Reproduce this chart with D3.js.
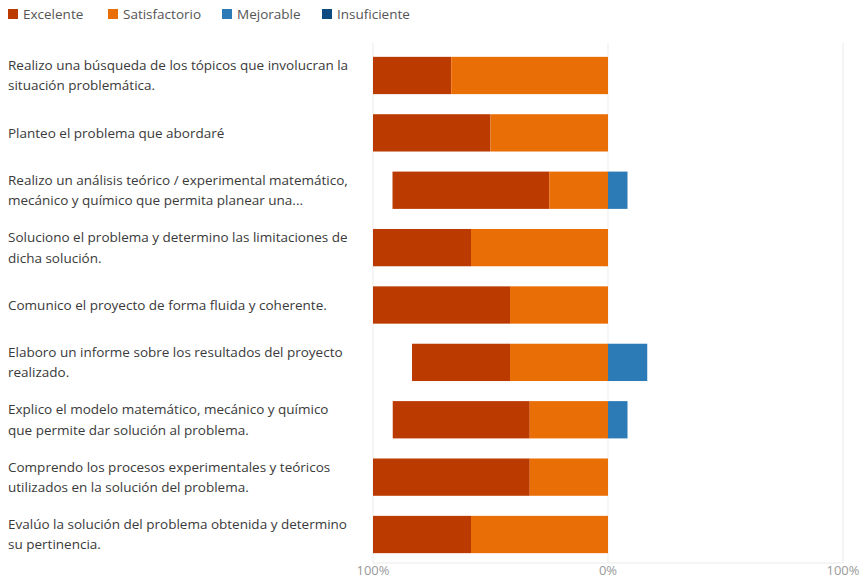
<!DOCTYPE html>
<html lang="es">
<head>
  <meta charset="UTF-8">
  <title>Autoevaluación</title>
  <script src="https://d3js.org/d3.v7.min.js"></script>
  <style>
    body { margin: 0; background: #fff; overflow: hidden; }
    svg { display: block; }
    text { font-family: "Open Sans", "Noto Sans", sans-serif; }
  </style>
</head>
<body>
<svg width="866" height="578"></svg>
<script>
// preguntas (saltos de línea como en el original)
const questions = [
  "Realizo una búsqueda de los tópicos que involucran la\nsituación problemática.",
  "Planteo el problema que abordaré",
  "Realizo un análisis teórico / experimental matemático,\nmecánico y químico que permita planear una...",
  "Soluciono el problema y determino las limitaciones de\ndicha solución.",
  "Comunico el proyecto de forma fluida y coherente.",
  "Elaboro un informe sobre los resultados del proyecto\nrealizado.",
  "Explico el modelo matemático, mecánico y químico\nque permite dar solución al problema.",
  "Comprendo los procesos experimentales y teóricos\nutilizados en la solución del problema.",
  "Evalúo la solución del problema obtenida y determino\nsu pertinencia."
];

const categories = ["Excelente", "Satisfactorio", "Mejorable", "Insuficiente"];
const colors = ["#bb3a00", "#ea6e06", "#2c7bb6", "#0d4a80"];

// porcentaje de respuestas
const excelente     = [33.3, 50.0, 66.7, 41.7, 58.3, 41.7, 58.3, 66.7, 41.7];
const satisfactorio = [66.7, 50.0, 25.0, 58.3, 41.7, 41.7, 33.3, 33.3, 58.3];
const mejorable     = [0, 0, 8.3, 0, 0, 16.7, 8.3, 0, 0];
const insuficiente  = [0, 0, 0, 0, 0, 0, 0, 0, 0];

const tickValues = [-100, 0, 100];

const svg = d3.select("svg");

const x = d3.scaleLinear().domain([-100, 100]).range([373, 843]);
const y = d3.scaleBand()
  .domain(questions.map((d, i) => i))
  .range([46.8, 563.2])
  .paddingInner(0.35)
  .paddingOuter(0.175);

// cuadrícula
svg.append("g").selectAll("line")
  .data(tickValues)
  .join("line")
  .attr("x1", d => x(d)).attr("x2", d => x(d))
  .attr("y1", 43).attr("y2", 563)
  .attr("stroke", "#ebebeb").attr("stroke-width", 1);

svg.append("line")
  .attr("x1", x(-100)).attr("x2", x(100))
  .attr("y1", 563).attr("y2", 563)
  .attr("stroke", "#ebebeb");

// segmentos: izquierda (excelente, satisfactorio), derecha (mejorable, insuficiente)
const segs = [];
questions.forEach((q, i) => {
  const e = excelente[i], s = satisfactorio[i], m = mejorable[i], n = insuficiente[i];
  segs.push({ i, c: 0, x0: -(e + s), x1: -s });
  segs.push({ i, c: 1, x0: -s, x1: 0 });
  segs.push({ i, c: 2, x0: 0, x1: m });
  segs.push({ i, c: 3, x0: m, x1: m + n });
});

svg.append("g").selectAll("rect")
  .data(segs.filter(d => d.x1 > d.x0))
  .join("rect")
  .attr("x", d => x(d.x0))
  .attr("width", d => x(d.x1) - x(d.x0))
  .attr("y", d => y(d.i))
  .attr("height", y.bandwidth())
  .attr("fill", d => colors[d.c]);

// etiquetas de preguntas
const lbl = svg.append("g").selectAll("text")
  .data(questions)
  .join("text")
  .attr("x", 8)
  .attr("font-size", 13.5)
  .attr("fill", "#3a3a3a");

lbl.each(function(d, i) {
  const lines = d.split("\n");
  const cy = y(i) + y.bandwidth() / 2;
  const lh = 20.5;
  const t = d3.select(this);
  lines.forEach((ln, k) => {
    t.append("tspan")
      .attr("x", 8)
      .attr("y", cy + (k - (lines.length - 1) / 2) * lh)
      .attr("dy", "0.35em")
      .text(ln);
  });
});

// eje x
svg.append("g").selectAll("text")
  .data(tickValues)
  .join("text")
  .attr("x", d => x(d))
  .attr("y", 575)
  .attr("text-anchor", "middle")
  .attr("font-size", 13)
  .attr("fill", "#9a9a9a")
  .text(d => Math.abs(d) + "%");

// leyenda
const legendX = [8, 108, 222, 322];
const leg = svg.append("g").selectAll("g")
  .data(categories)
  .join("g")
  .attr("transform", (d, i) => `translate(${legendX[i]},0)`);
leg.append("rect")
  .attr("x", 0).attr("y", 9)
  .attr("width", 10).attr("height", 10)
  .attr("fill", (d, i) => colors[i]);
leg.append("text")
  .attr("x", 15).attr("y", 14)
  .attr("dy", "0.35em")
  .attr("font-size", 13.5)
  .attr("fill", "#555")
  .text(d => d);
</script>
</body>
</html>
